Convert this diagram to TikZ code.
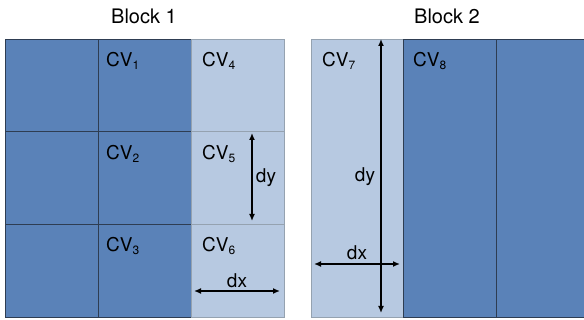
\documentclass[tikz,border=0pt]{standalone}
\usepackage{fontspec}
\setmainfont{TeX Gyre Heros}
\usetikzlibrary{arrows.meta}
\definecolor{cvdark}{HTML}{5A82B8}
\definecolor{cvlight}{HTML}{B7C9E1}
\definecolor{edgedark}{HTML}{2E3D52}
\definecolor{edgelight}{HTML}{95A2B0}
\tikzset{
  darkcell/.style={draw=edgedark, line width=0.9pt, fill=cvdark, minimum width=93pt, minimum height=93pt, inner sep=0pt, anchor=north west},
  lightcell/.style={draw=edgelight, line width=0.9pt, fill=cvlight, minimum width=93pt, minimum height=93pt, inner sep=0pt, anchor=north west},
  tallcell/.style={minimum height=278pt},
  cvlabel/.style={font=\fontsize{19}{22}\selectfont, anchor=base west, inner sep=0pt},
  title/.style={font=\fontsize{20}{24}\selectfont, anchor=base, inner sep=0pt},
  dimlabel/.style={font=\fontsize{19}{22}\selectfont, inner sep=0pt},
  dimarrow/.style={line width=1.4pt, {Latex[length=7pt,width=6pt]}-{Latex[length=7pt,width=6pt]}}
}
\newcommand{\cv}[1]{CV\raisebox{-3pt}{\fontsize{12}{14}\selectfont #1}}
\begin{document}
\begin{tikzpicture}[x=1pt, y=-1pt]
  \useasboundingbox (0,0) rectangle (584,320);

  % Block 1: three columns by three rows
  \node[darkcell]  (a1) at (5,39)   {};
  \node[darkcell]  (b1) at (98,39)  {};
  \node[lightcell] (c1) at (191,39) {};
  \node[darkcell]  (a2) at (5,131)  {};
  \node[darkcell]  (b2) at (98,131) {};
  \node[lightcell] (c2) at (191,131){};
  \node[darkcell]  (a3) at (5,224)  {};
  \node[darkcell]  (b3) at (98,224) {};
  \node[lightcell] (c3) at (191,224){};

  % Block 2: three full-height columns, the last cut at the edge
  \begin{scope}
    \clip (0,0) rectangle (584,320);
    \node[lightcell, tallcell] (d) at (311,39) {};
    \node[darkcell, tallcell]  (e) at (403,39) {};
    \node[darkcell, tallcell]  (f) at (496,39) {};
  \end{scope}

  % Titles
  \node[title] (t1) at (144,24) {Block 1};
  \node[title] (t2) at (447,24) {Block 2};

  % Control-volume labels
  \node[cvlabel] (l1) at (106,67)  {\cv{1}};
  \node[cvlabel] (l4) at (202,67)  {\cv{4}};
  \node[cvlabel] (l2) at (106,160) {\cv{2}};
  \node[cvlabel] (l5) at (202,160) {\cv{5}};
  \node[cvlabel] (l3) at (106,252) {\cv{3}};
  \node[cvlabel] (l6) at (202,252) {\cv{6}};
  \node[cvlabel] (l7) at (322,67)  {\cv{7}};
  \node[cvlabel] (l8) at (413,67)  {\cv{8}};

  % Spacing arrows in block 1
  \coordinate (dy1top) at (252,133);
  \coordinate (dy1bot) at (252,221);
  \coordinate (dx1l) at (194,291);
  \coordinate (dx1r) at (280,291);
  \draw[dimarrow] (dy1top) -- (dy1bot);
  \draw[dimarrow] (dx1l) -- (dx1r);
  \node[dimlabel] (dy1) at (266,178) {dy};
  \node[dimlabel] (dx1) at (237,281) {dx};

  % Spacing arrows in block 2
  \coordinate (dy2top) at (381,39);
  \coordinate (dy2bot) at (381,313);
  \coordinate (dx2l) at (314,264);
  \coordinate (dx2r) at (400,264);
  \draw[dimarrow] (dy2top) -- (dy2bot);
  \draw[dimarrow] (dx2l) -- (dx2r);
  \node[dimlabel] (dy2) at (365,177) {dy};
  \node[dimlabel] (dx2) at (357,253) {dx};
\end{tikzpicture}
\end{document}
